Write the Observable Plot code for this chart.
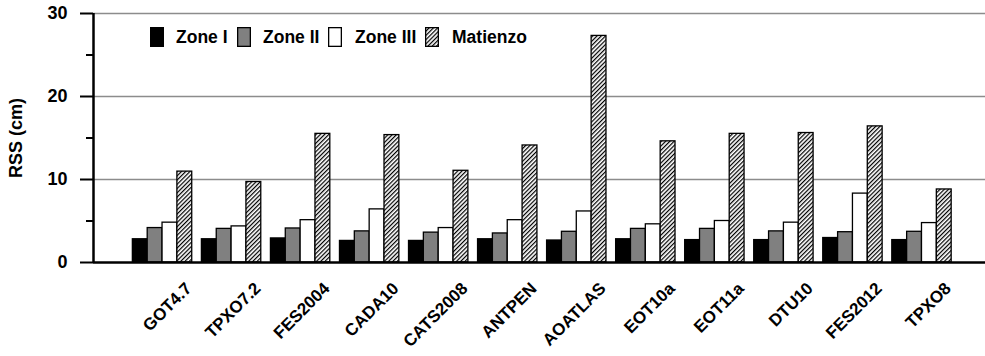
<!DOCTYPE html>
<html><head><meta charset="utf-8">
<script src="https://cdn.jsdelivr.net/npm/d3@7"></script>
<script src="https://cdn.jsdelivr.net/npm/@observablehq/plot@0.6"></script>
<style>
body{margin:0;background:#fff;}
#wrap{position:relative;width:985px;height:356px;font-family:"Liberation Sans",Arial,sans-serif;}
.lg{position:absolute;font-weight:bold;font-size:17.5px;line-height:20px;top:27px;color:#000;white-space:nowrap;}
.sw{position:absolute;top:27px;}
</style></head><body>
<svg width="0" height="0" style="position:absolute"><defs>
<pattern id="hatch" patternUnits="userSpaceOnUse" width="3" height="3" patternTransform="rotate(45)">
<rect width="3" height="3" fill="#fff"/><line x1="0.6" y1="0" x2="0.6" y2="3" stroke="#000" stroke-width="1.25"/>
</pattern></defs></svg>
<div id="wrap"></div>
<script>
const categories = ["GOT4.7","TPXO7.2","FES2004","CADA10","CATS2008","ANTPEN","AOATLAS","EOT10a","EOT11a","DTU10","FES2012","TPXO8"];
const seriesNames = ["Zone I","Zone II","Zone III","Matienzo"];
const zone1 = [2.8, 2.8, 2.9, 2.6, 2.6, 2.8, 2.65, 2.8, 2.7, 2.7, 2.95, 2.7];
const zone2 = [4.15, 4.05, 4.1, 3.75, 3.6, 3.5, 3.7, 4.05, 4.05, 3.75, 3.65, 3.7];
const zone3 = [4.8, 4.35, 5.1, 6.4, 4.15, 5.1, 6.15, 4.6, 5.0, 4.8, 8.3, 4.75];
const matienzo = [10.95, 9.7, 15.5, 15.35, 11.05, 14.1, 27.3, 14.6, 15.5, 15.6, 16.4, 8.8];
const yTicks = [0, 10, 20, 30];
const yMinorTicks = [5, 15, 25];

const seriesFills = ["#000000", "#808080", "#ffffff", "url(#hatch)"];
const xDomain = [-1.0, 11.92];
const barW = 0.215;

const rows = [];
[zone1, zone2, zone3, matienzo].forEach((vals, j) =>
  vals.forEach((v, i) => rows.push({cat: categories[i], i, j, series: seriesNames[j], value: v})));

const plot = Plot.plot({
  width: 985, height: 356,
  marginLeft: 93, marginRight: 0, marginTop: 13, marginBottom: 94,
  style: {fontFamily: "Liberation Sans, Arial, sans-serif", fontWeight: "bold", fontSize: "17px", color: "#000", background: "#fff", overflow: "visible"},
  x: {type: "linear", domain: xDomain, axis: null},
  y: {domain: [0, 30]},
  color: {type: "ordinal", domain: seriesNames, range: seriesFills},
  marks: [
    Plot.ruleY(yTicks.slice(1), {stroke: "#8c8c8c", strokeWidth: 1.3}),
    Plot.rect(rows, {
      x1: d => d.i + (d.j - 2) * barW,
      x2: d => d.i + (d.j - 1) * barW,
      y1: 0, y2: "value", fill: "series", stroke: "#000", strokeWidth: 1.3
    }),
    Plot.ruleY([0], {stroke: "#000", strokeWidth: 2.5}),
    Plot.ruleX([xDomain[0]], {stroke: "#000", strokeWidth: 2.5}),
    Plot.axisY({ticks: yTicks, tickSize: 13, tickPadding: 13, strokeWidth: 2, fontSize: 18,
      label: "RSS (cm)", labelAnchor: "center", labelOffset: 84, labelArrow: "none"}),
    Plot.axisY({ticks: yMinorTicks, tickSize: 7, strokeWidth: 2, text: null, label: null}),
    Plot.text(categories, {x: (d, i) => i, text: d => d, frameAnchor: "bottom",
      rotate: -45, textAnchor: "end", lineAnchor: "top", dx: 21.5, dy: 18.5,
      fontSize: 17, fontWeight: "bold", fill: "#000"})
  ]
});
const wrap = document.getElementById("wrap");
wrap.appendChild(plot);

const legendPos = [[150, 176], [237, 263], [328, 355], [425, 452]];
seriesNames.forEach((name, j) => {
  const sw = document.createElementNS("http://www.w3.org/2000/svg", "svg");
  sw.setAttribute("class", "sw");
  sw.setAttribute("width", 14); sw.setAttribute("height", 20);
  sw.style.left = legendPos[j][0] + "px";
  sw.innerHTML = `<rect x="0.65" y="0.65" width="12.7" height="18.7" fill="${seriesFills[j]}" stroke="#000" stroke-width="1.3"/>`;
  wrap.appendChild(sw);
  const t = document.createElement("div");
  t.className = "lg";
  t.style.left = legendPos[j][1] + "px";
  t.textContent = name;
  wrap.appendChild(t);
});
</script>
</body></html>
